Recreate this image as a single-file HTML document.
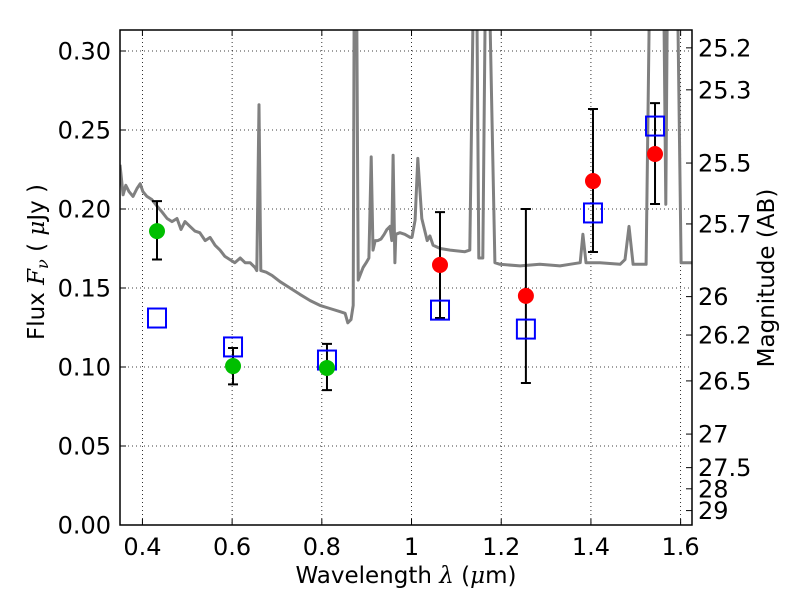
<!DOCTYPE html>
<html><head><meta charset="utf-8"><style>
body{margin:0;background:#fff}
svg text{font-family:"DejaVu Sans","Liberation Sans",sans-serif;fill:#000;font-size:24px}
svg text.ax{font-size:24px}
</style></head><body>
<svg id="chart" width="800" height="600" viewBox="0 0 800 600">
<defs><clipPath id="pc"><rect x="120" y="30" width="572" height="495"/></clipPath></defs>
<rect x="0" y="0" width="800" height="600" fill="#fff"/>
<g id="grid"></g>
<g id="spec" clip-path="url(#pc)"></g>
<g id="marks"></g>
<rect x="120" y="30" width="572" height="495" fill="none" stroke="#000" stroke-width="1.5"/>
<g id="axes"></g>
<text x="406" y="583" style="font-size:23px" text-anchor="middle">Wavelength  <tspan font-style="italic" font-family="DejaVu Serif,serif">λ</tspan> (<tspan font-style="italic" font-family="DejaVu Serif,serif">μ</tspan>m)</text>
<text transform="translate(44,262) rotate(-90)" style="font-size:23px" text-anchor="middle">Flux  <tspan font-style="italic" font-family="DejaVu Serif,serif">F<tspan style="font-size:16px" dy="4">ν</tspan></tspan><tspan dy="-4">  (  </tspan><tspan font-style="italic" font-family="DejaVu Serif,serif">μ</tspan>Jy )</text>
<text transform="translate(774,278) rotate(-90)" style="font-size:23px" text-anchor="middle">Magnitude (AB)</text>
</svg>
<script>
const xTicks=[0.4,0.6,0.8,1.0,1.2,1.4,1.6];
const xTickLabels=["0.4","0.6","0.8","1","1.2","1.4","1.6"];
const yTicks=[0,0.05,0.10,0.15,0.20,0.25,0.30];
const yTickLabels=["0.00","0.05","0.10","0.15","0.20","0.25","0.30"];
const magTicks=[25.2,25.3,25.5,25.7,26,26.2,26.5,27,27.5,28,29];
const magTickLabels=["25.2","25.3","25.5","25.7","26","26.2","26.5","27","27.5","28","29"];
const specLam=[0.350,0.357,0.363,0.370,0.379,0.388,0.395,0.401,0.410,0.421,0.432,0.444,0.455,0.466,0.477,0.486,0.495,0.506,0.517,0.528,0.540,0.551,0.562,0.573,0.584,0.595,0.606,0.618,0.629,0.640,0.651,0.655,0.660,0.664,0.676,0.689,0.707,0.729,0.751,0.774,0.796,0.818,0.841,0.852,0.858,0.865,0.870,0.872,0.878,0.881,0.892,0.899,0.905,0.910,0.914,0.919,0.925,0.932,0.939,0.945,0.952,0.956,0.959,0.963,0.965,0.974,0.985,0.997,1.001,1.008,1.014,1.023,1.035,1.041,1.048,1.064,1.086,1.119,1.130,1.137,1.146,1.150,1.159,1.164,1.175,1.186,1.197,1.242,1.286,1.331,1.353,1.376,1.382,1.389,1.420,1.465,1.476,1.485,1.494,1.523,1.530,1.563,1.567,1.570,1.594,1.601,1.625];
const specFlux=[0.228,0.209,0.215,0.211,0.208,0.213,0.216,0.211,0.208,0.206,0.202,0.198,0.194,0.192,0.194,0.187,0.192,0.189,0.186,0.185,0.180,0.182,0.177,0.174,0.170,0.168,0.166,0.169,0.166,0.166,0.163,0.161,0.266,0.161,0.160,0.158,0.154,0.150,0.146,0.142,0.139,0.137,0.135,0.134,0.128,0.130,0.139,0.32,0.32,0.155,0.163,0.166,0.169,0.233,0.174,0.180,0.180,0.181,0.184,0.187,0.189,0.180,0.234,0.166,0.184,0.185,0.184,0.182,0.182,0.193,0.232,0.194,0.180,0.183,0.177,0.175,0.174,0.173,0.174,0.32,0.32,0.169,0.169,0.32,0.32,0.166,0.165,0.164,0.165,0.164,0.165,0.166,0.184,0.166,0.166,0.165,0.168,0.189,0.165,0.165,0.32,0.32,0.203,0.32,0.32,0.166,0.166];
const greenLam=[0.4325,0.602,0.8115];
const greenFlux=[0.186,0.1006,0.0994];
const greenLo=[0.168,0.089,0.0854];
const greenHi=[0.205,0.112,0.1146];
const redLam=[1.0635,1.255,1.4046,1.5429];
const redFlux=[0.1646,0.145,0.2177,0.2348];
const redLo=[0.131,0.0899,0.1728,0.2032];
const redHi=[0.198,0.200,0.2633,0.267];
const modelLam=[0.4325,0.602,0.8115,1.0635,1.255,1.4046,1.5429];
const modelFlux=[0.131,0.1127,0.1044,0.136,0.124,0.1975,0.2525];

const NS="http://www.w3.org/2000/svg";
const X=l=>120+(l-0.35)*448.5;
const Y=f=>525-f*1580;
function mk(t,a,p){const e=document.createElementNS(NS,t);for(const k in a)e.setAttribute(k,a[k]);p.appendChild(e);return e;}
const grid=document.getElementById('grid'),axes=document.getElementById('axes'),spec=document.getElementById('spec'),marks=document.getElementById('marks');
xTicks.forEach((v,i)=>{const x=X(v);
 let g=mk('line',{x1:x,x2:x,y1:30,y2:525,stroke:'#000','stroke-width':0.8,'stroke-dasharray':'1,3'},grid);
 
 
 let t=mk('line',{x1:x,x2:x,y1:525,y2:519,stroke:'#000'},axes);
 
 
 let t2=mk('line',{x1:x,x2:x,y1:30,y2:36,stroke:'#000'},axes);
 
 
 let l=mk('text',{x:x,y:555,'text-anchor':'middle',class:'ax'},axes);l.textContent=xTickLabels[i];
 
 
});
yTicks.forEach((v,i)=>{const y=Y(v);
 let g=mk('line',{x1:120,x2:692,y1:y,y2:y,stroke:'#000','stroke-width':0.8,'stroke-dasharray':'1,3'},grid);
 
 
 let t=mk('line',{x1:120,x2:126,y1:y,y2:y,stroke:'#000'},axes);
 
 
 let l=mk('text',{x:111,y:y+8.5,'text-anchor':'end',class:'ax'},axes);l.textContent=yTickLabels[i];
 
 
});
magTicks.forEach((m,i)=>{const y=Y(Math.pow(10,(23.9-m)/2.5));
 let t=mk('line',{x1:686,x2:692,y1:y,y2:y,stroke:'#000'},axes);
 
 
 let l=mk('text',{x:698,y:y+8.5,class:'ax'},axes);l.textContent=magTickLabels[i];
 
 
});
let pts=specLam.map((l,i)=>X(l).toFixed(1)+','+Y(specFlux[i]).toFixed(1)).join(' ');
let sp=mk('polyline',{points:pts,fill:'none',stroke:'#808080','stroke-width':3,'stroke-linejoin':'round'},spec);


function errbar(l,lo,hi){const x=X(l);
 let e=mk('path',{d:`M${x},${Y(lo)}V${Y(hi)}M${x-5},${Y(lo)}H${x+5}M${x-5},${Y(hi)}H${x+5}`,stroke:'#000','stroke-width':2,fill:'none'},marks);
 
 
}
greenLam.forEach((l,i)=>errbar(l,greenLo[i],greenHi[i]));
redLam.forEach((l,i)=>errbar(l,redLo[i],redHi[i]));
modelLam.forEach((l,i)=>{
 let r=mk('rect',{x:X(l)-9,y:Y(modelFlux[i])-9.5,width:18,height:19,fill:'none',stroke:'#0000ff','stroke-width':2},marks);
 
 
});
greenLam.forEach((l,i)=>{
 let c=mk('circle',{cx:X(l),cy:Y(greenFlux[i]),r:8,fill:'#00bf00'},marks);
 
 
});
redLam.forEach((l,i)=>{
 let c=mk('circle',{cx:X(l),cy:Y(redFlux[i]),r:8,fill:'#ff0000'},marks);
 
 
});
</script>
</body></html>
